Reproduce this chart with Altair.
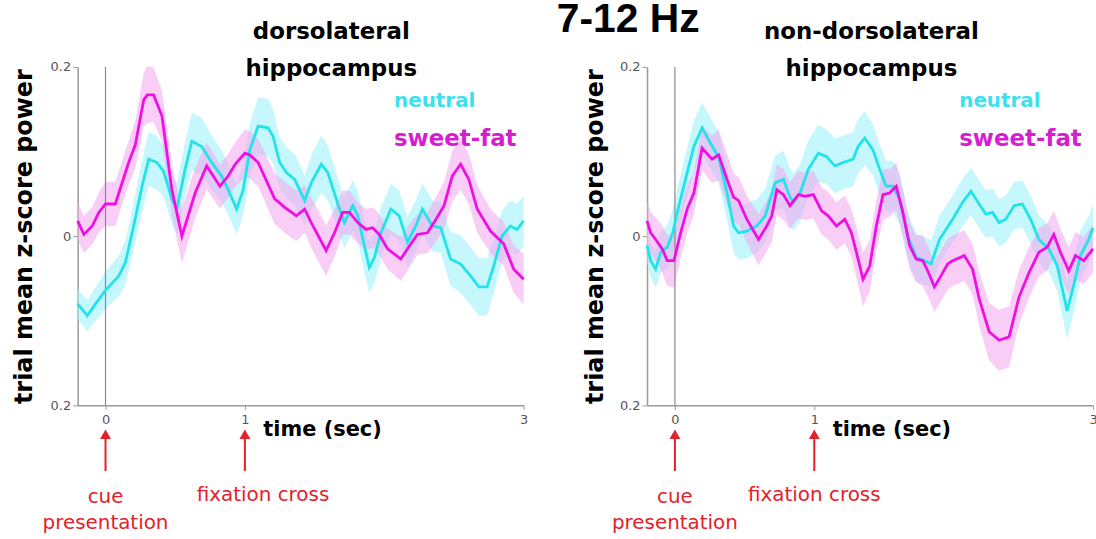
import altair as alt
import pandas as pd

# ---------------- data ----------------
TICKS_X = [0, 1, 3]
TICKS_Y = [-0.2, 0, 0.2]
EVENT_TIMES = [0, 1]

# left panel: dorsolateral hippocampus
L_N_T = [-0.2, -0.131, -0.071, 0, 0.095, 0.143, 0.202, 0.262, 0.31, 0.369,
         0.416, 0.476, 0.512, 0.571, 0.619, 0.69, 0.762, 0.833, 0.88, 0.941,
         0.988, 1.036, 1.095, 1.167, 1.202, 1.25, 1.298, 1.357, 1.429, 1.476,
         1.548, 1.595, 1.679, 1.714, 1.774, 1.81, 1.857, 1.893, 1.93, 1.976,
         2.048, 2.107, 2.167, 2.226, 2.274, 2.345, 2.405, 2.476, 2.548, 2.619,
         2.679, 2.738, 2.786, 2.845, 2.905, 2.952, 3.0]
L_N_V = [-0.08, -0.094, -0.080, -0.064, -0.047, -0.031, 0.012, 0.059, 0.091, 0.087,
         0.077, 0.044, 0.032, 0.079, 0.112, 0.106, 0.087, 0.071, 0.055, 0.032,
         0.055, 0.102, 0.130, 0.128, 0.118, 0.087, 0.075, 0.067, 0.042, 0.063,
         0.085, 0.075, 0.032, 0.016, 0.036, 0.024, -0.011, -0.037, -0.025, 0.004,
         0.032, 0.024, -0.007, 0.012, 0.032, 0.012, 0.010, -0.027, -0.033, -0.047,
         -0.060, -0.060, -0.035, 0.0, 0.012, 0.008, 0.018]
L_N_E = [0.018, 0.018, 0.020, 0.022, 0.024, 0.026, 0.028, 0.030, 0.032, 0.032,
         0.030, 0.030, 0.030, 0.032, 0.034, 0.034, 0.032, 0.030, 0.030, 0.030,
         0.030, 0.032, 0.034, 0.034, 0.032, 0.030, 0.030, 0.030, 0.030, 0.032,
         0.034, 0.032, 0.030, 0.030, 0.030, 0.030, 0.030, 0.030, 0.030, 0.030,
         0.030, 0.030, 0.030, 0.030, 0.030, 0.030, 0.030, 0.032, 0.034, 0.034,
         0.034, 0.034, 0.032, 0.030, 0.030, 0.030, 0.030]

L_S_T = [-0.2, -0.155, -0.095, -0.048, 0, 0.07, 0.166, 0.214, 0.274, 0.3,
         0.345, 0.405, 0.476, 0.548, 0.643, 0.726, 0.821, 0.88, 0.93, 1.0,
         1.036, 1.095, 1.214, 1.286, 1.369, 1.429, 1.476, 1.583, 1.643, 1.702,
         1.75, 1.81, 1.869, 1.917, 1.964, 2.024, 2.119, 2.167, 2.238, 2.31,
         2.357, 2.429, 2.488, 2.548, 2.607, 2.667, 2.762, 2.857, 2.929, 3.0]
L_S_V = [0.018, 0.002, 0.012, 0.028, 0.038, 0.038, 0.087, 0.108, 0.161, 0.167,
         0.167, 0.142, 0.055, 0.0, 0.051, 0.083, 0.059, 0.071, 0.085, 0.098,
         0.096, 0.087, 0.044, 0.034, 0.024, 0.032, 0.016, -0.017, 0.004, 0.028,
         0.028, 0.016, 0.008, 0.010, 0.002, -0.015, -0.027, -0.015, 0.002, 0.004,
         0.016, 0.036, 0.071, 0.085, 0.067, 0.032, 0.006, -0.009, -0.039, -0.051]
L_S_E = [0.022, 0.022, 0.022, 0.024, 0.026, 0.026, 0.026, 0.028, 0.032, 0.034,
         0.032, 0.030, 0.030, 0.032, 0.030, 0.028, 0.026, 0.026, 0.026, 0.028,
         0.028, 0.028, 0.030, 0.030, 0.030, 0.028, 0.030, 0.030, 0.028, 0.026,
         0.026, 0.024, 0.024, 0.024, 0.024, 0.024, 0.026, 0.026, 0.024, 0.024,
         0.026, 0.028, 0.030, 0.030, 0.030, 0.028, 0.026, 0.026, 0.028, 0.030]

# right panel: non-dorsolateral hippocampus
R_N_T = [-0.2, -0.174, -0.138, -0.102, -0.055, -0.019, 0.029, 0.088, 0.136, 0.195,
         0.255, 0.314, 0.374, 0.421, 0.457, 0.516, 0.588, 0.648, 0.719, 0.779,
         0.826, 0.85, 0.898, 0.957, 1.029, 1.088, 1.148, 1.207, 1.279, 1.314,
         1.362, 1.421, 1.469, 1.516, 1.564, 1.612, 1.671, 1.731, 1.791, 1.838,
         1.898, 1.93, 1.993, 2.064, 2.124, 2.183, 2.231, 2.279, 2.326, 2.374,
         2.434, 2.493, 2.552, 2.612, 2.684, 2.743, 2.814, 2.862, 2.91, 2.969,
         3.0]
R_N_V = [-0.011, -0.029, -0.039, -0.019, -0.013, 0.002, 0.036, 0.075, 0.106, 0.128,
         0.110, 0.093, 0.051, 0.012, 0.004, 0.006, 0.012, 0.024, 0.063, 0.067,
         0.046, 0.040, 0.051, 0.079, 0.098, 0.094, 0.083, 0.087, 0.091, 0.106,
         0.116, 0.102, 0.079, 0.059, 0.059, 0.044, 0.0, -0.025, -0.029, -0.033,
         -0.004, 0.004, 0.020, 0.040, 0.053, 0.038, 0.026, 0.028, 0.016, 0.020,
         0.036, 0.038, 0.020, -0.004, -0.015, -0.035, -0.088, -0.058, -0.023, -0.004,
         0.010]
R_N_E = [0.020, 0.020, 0.022, 0.024, 0.026, 0.028, 0.028, 0.030, 0.030, 0.030,
         0.030, 0.030, 0.032, 0.032, 0.032, 0.032, 0.032, 0.032, 0.032, 0.034,
         0.034, 0.034, 0.034, 0.034, 0.034, 0.032, 0.032, 0.032, 0.032, 0.032,
         0.032, 0.030, 0.030, 0.030, 0.030, 0.030, 0.028, 0.028, 0.028, 0.028,
         0.028, 0.028, 0.028, 0.028, 0.028, 0.028, 0.028, 0.028, 0.028, 0.028,
         0.028, 0.028, 0.028, 0.028, 0.028, 0.030, 0.034, 0.032, 0.030, 0.028,
         0.028]

R_S_T = [-0.2, -0.174, -0.138, -0.091, -0.055, -0.007, 0.041, 0.088, 0.136, 0.195,
         0.266, 0.314, 0.374, 0.421, 0.457, 0.516, 0.6, 0.659, 0.695, 0.731,
         0.779, 0.826, 0.886, 0.934, 0.993, 1.052, 1.1, 1.159, 1.219, 1.266,
         1.302, 1.35, 1.398, 1.445, 1.493, 1.541, 1.588, 1.636, 1.684, 1.731,
         1.779, 1.814, 1.862, 1.909, 1.957, 1.993, 2.076, 2.136, 2.183, 2.255,
         2.326, 2.398, 2.469, 2.541, 2.612, 2.671, 2.719, 2.766, 2.826, 2.874,
         2.934, 3.0]
R_S_V = [0.018, 0.004, -0.004, -0.015, -0.029, -0.029, 0.004, 0.032, 0.051, 0.104,
         0.091, 0.096, 0.067, 0.046, 0.042, 0.020, -0.004, 0.012, 0.024, 0.055,
         0.049, 0.036, 0.049, 0.047, 0.049, 0.030, 0.024, 0.012, 0.020, 0.004,
         -0.019, -0.051, -0.035, 0.012, 0.049, 0.051, 0.059, 0.028, -0.011, -0.027,
         -0.029, -0.041, -0.060, -0.047, -0.033, -0.029, -0.023, -0.039, -0.074, -0.113,
         -0.123, -0.119, -0.072, -0.043, -0.019, -0.013, 0.002, -0.019, -0.041, -0.023,
         -0.029, -0.015]
R_S_E = [0.024, 0.024, 0.026, 0.028, 0.030, 0.032, 0.030, 0.028, 0.026, 0.026,
         0.028, 0.030, 0.030, 0.028, 0.028, 0.028, 0.030, 0.030, 0.030, 0.030,
         0.030, 0.028, 0.028, 0.028, 0.028, 0.028, 0.028, 0.028, 0.028, 0.028,
         0.030, 0.032, 0.030, 0.030, 0.030, 0.028, 0.028, 0.028, 0.028, 0.028,
         0.030, 0.030, 0.030, 0.030, 0.030, 0.030, 0.030, 0.030, 0.032, 0.034,
         0.036, 0.036, 0.032, 0.030, 0.028, 0.028, 0.028, 0.028, 0.028, 0.028,
         0.028, 0.028]

# ---------------- styling ----------------
W, H = 448, 340
CYAN_LINE = "#22e2ea"
MAG_LINE = "#f00ee4"
CYAN_BAND = "#9ef2fa"
MAG_BAND = "#f3a6ef"
CYAN_TXT = "#3fe0ee"
MAG_TXT = "#d61ed0"
RED = "#e4202a"
AX = "#9a9a9a"
BOLD = "DejaVu Sans"

XS = alt.Scale(domain=[-0.2, 3], nice=False, zero=False)
YS = alt.Scale(domain=[-0.2, 0.2], nice=False, zero=False)


def frame(t, v, e):
    return pd.DataFrame({
        "t": t, "v": v,
        "lo": [a - b for a, b in zip(v, e)],
        "hi": [a + b for a, b in zip(v, e)],
    })


def txt(label, t, ypix, size, color, weight="normal", align="center", font=BOLD):
    return alt.Chart(pd.DataFrame({"t": [t]})).mark_text(
        text=label, align=align, baseline="alphabetic", font=font,
        fontSize=size, fontWeight=weight, color=color
    ).encode(x=alt.X("t:Q", scale=XS), y=alt.value(ypix))


def panel(nt, nv, ne, st, sv, se, titles, title_t, legend_t, fix_t, ytx):
    dn = frame(nt, nv, ne)
    ds = frame(st, sv, se)
    xaxis = alt.Axis(values=TICKS_X, format="d", title="time (sec)", grid=False,
                     domainColor=AX, domainWidth=1.5, tickColor=AX, tickSize=4,
                     labelColor="#555555", labelFont="DejaVu Sans", labelFontSize=13,
                     labelFlush=False, labelPadding=4,
                     titleFont=BOLD, titleFontSize=21, titleFontWeight="bold",
                     titleColor="black", titleAlign="left", titleBaseline="middle",
                     titleX=186, titleY=24, titleAngle=0)
    yaxis = alt.Axis(values=TICKS_Y, title="trial mean z-score power", grid=False,
                     labelExpr="datum.value == 0 ? '0' : format(abs(datum.value), '.1f')",
                     domainColor=AX, domainWidth=1.5, tickColor=AX, tickSize=5,
                     labelColor="#555555", labelFont="DejaVu Sans", labelFontSize=13,
                     labelFlush=False, labelPadding=2,
                     titleFont=BOLD, titleFontSize=24, titleFontWeight="bold",
                     titleColor="black", titleAngle=270, titleAlign="center",
                     titleBaseline="middle", titleX=ytx, titleY=H / 2)

    band_n = alt.Chart(dn).mark_area(color=CYAN_BAND, opacity=0.6).encode(
        x=alt.X("t:Q", scale=XS, axis=xaxis),
        y=alt.Y("lo:Q", scale=YS, axis=yaxis), y2="hi:Q")
    band_s = alt.Chart(ds).mark_area(color=MAG_BAND, opacity=0.55).encode(
        x=alt.X("t:Q", scale=XS), y=alt.Y("lo:Q", scale=YS), y2="hi:Q")
    zero = alt.Chart(pd.DataFrame({"t": [0]})).mark_rule(
        color="#8a8a8a", strokeWidth=1.2).encode(
        x=alt.X("t:Q", scale=XS), y=alt.value(0), y2=alt.value(H))
    line_n = alt.Chart(dn).mark_line(color=CYAN_LINE, strokeWidth=2.8).encode(
        x=alt.X("t:Q", scale=XS), y=alt.Y("v:Q", scale=YS))
    line_s = alt.Chart(ds).mark_line(color=MAG_LINE, strokeWidth=2.8).encode(
        x=alt.X("t:Q", scale=XS), y=alt.Y("v:Q", scale=YS))

    ev = pd.DataFrame({"t": EVENT_TIMES})
    shaft = alt.Chart(ev).mark_rule(color=RED, strokeWidth=2).encode(
        x=alt.X("t:Q", scale=XS), y=alt.value(372), y2=alt.value(406))
    head = alt.Chart(ev).mark_point(shape="triangle-up", filled=True, size=120,
                                    color=RED, opacity=1).encode(
        x=alt.X("t:Q", scale=XS), y=alt.value(369))

    layers = [
        band_n, band_s, zero, line_n, line_s, shaft, head,
        txt(titles[0], title_t, -28, 23, "black", "bold"),
        txt(titles[1], title_t, 9, 23, "black", "bold"),
        txt("neutral", legend_t, 40, 20, CYAN_TXT, "bold", "left"),
        txt("sweet-fat", legend_t, 79, 23, MAG_TXT, "bold", "left"),
        txt("cue", 0, 438, 20, RED),
        txt("presentation", 0, 464, 20, RED),
        txt("fixation cross", fix_t, 436, 20, RED),
    ]
    return alt.layer(*layers).properties(width=W, height=H)


left = panel(L_N_T, L_N_V, L_N_E, L_S_T, L_S_V, L_S_E,
             ["dorsolateral", "hippocampus"], 1.62, 2.07, 1.13, -53)
right = panel(R_N_T, R_N_V, R_N_E, R_S_T, R_S_V, R_S_E,
              ["non-dorsolateral", "hippocampus"], 1.41, 2.04, 1.0, -52)

chart = alt.hconcat(left, right, spacing=124, bounds="flush").properties(
    title=alt.TitleParams("7-12 Hz", font="Liberation Sans", fontSize=41,
                          fontWeight="bold", color="black", anchor="middle",
                          frame="group", dx=553, offset=-20),
    padding={"left": 12, "top": -2, "right": -3, "bottom": 0},
    background="white",
).configure_view(stroke=None)

chart.save("out.html", embed_options={"renderer": "svg", "actions": False})
